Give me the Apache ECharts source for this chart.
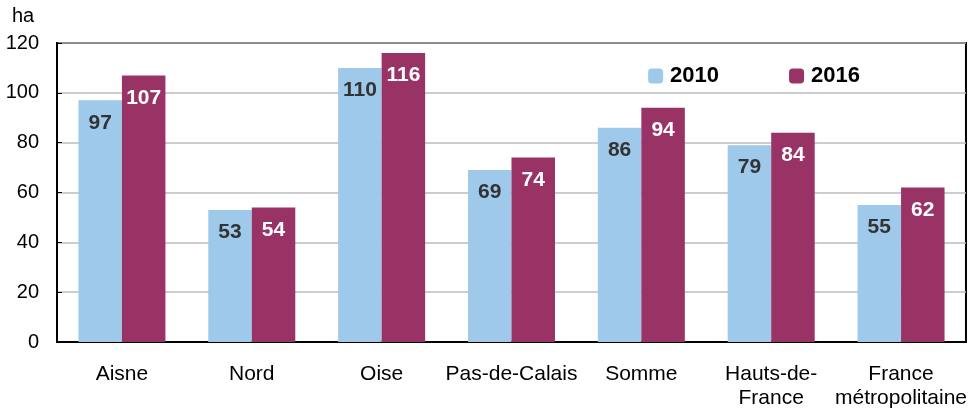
<!DOCTYPE html>
<html>
<head>
<meta charset="utf-8">
<script src="https://cdn.jsdelivr.net/npm/echarts@6/dist/echarts.min.js"></script>
<style>
  html, body { margin: 0; padding: 0; background: #fff; }
  #chart { width: 970px; height: 413px; }
</style>
</head>
<body>
<div id="chart"></div>
<script>
// départements / régions
const categories = ["Aisne", "Nord", "Oise", "Pas-de-Calais", "Somme", "Hauts-de-\nFrance", "France\nmétropolitaine"];
const values2010 = [97, 53, 110, 69, 86, 79, 55];
const values2016 = [107, 54, 116, 74, 94, 84, 62];
const yTicks = { min: 0, max: 120, interval: 20 };

const chart = echarts.init(document.getElementById("chart"));

const font = "Liberation Sans, Arial, sans-serif";

let option = {
  animation: false,
  textStyle: { fontFamily: font },
  grid: {
    left: 57, right: 4, top: 43, bottom: 71,
    show: true,
    borderColor: "#000",
    borderWidth: 2
  },
  legend: {
    top: 60,
    right: 105,
    itemWidth: 15,
    itemHeight: 15,
    itemGap: 70,
    textStyle: { fontSize: 22, fontWeight: "bold", color: "#000", fontFamily: font, padding: [0, 0, 0, 2] },
    data: ["2010", "2016"]
  },
  graphic: [{
    type: "text",
    left: 12,
    top: 6,
    style: { text: "ha", fontSize: 20, fill: "#000", fontFamily: font }
  }],
  xAxis: {
    type: "category",
    data: categories,
    axisLine: { lineStyle: { color: "#000", width: 2 } },
    axisTick: { inside: true, length: 6, lineStyle: { color: "#000" } },
    axisLabel: { fontSize: 21, color: "#000", margin: 20, lineHeight: 24, interval: 0 }
  },
  yAxis: {
    type: "value",
    min: yTicks.min,
    max: yTicks.max,
    interval: yTicks.interval,
    axisLine: { show: true, lineStyle: { color: "#000", width: 2 } },
    axisTick: { show: true, inside: true, length: 5, lineStyle: { color: "#000" } },
    axisLabel: { fontSize: 20, color: "#000", margin: 18 },
    splitLine: { lineStyle: { color: "#bdbdbd", width: 1.5 } }
  },
  series: [
    {
      name: "2010",
      type: "bar",
      data: values2010,
      barGap: "0%",
      barCategoryGap: "33%",
      itemStyle: { color: "#9ec9ea" },
      label: {
        show: true,
        position: "insideTop",
        distance: 12,
        fontSize: 21,
        fontWeight: "bold",
        color: "#333"
      }
    },
    {
      name: "2016",
      type: "bar",
      data: values2016,
      itemStyle: { color: "#993366" },
      label: {
        show: true,
        position: "insideTop",
        distance: 12,
        fontSize: 21,
        fontWeight: "bold",
        color: "#fff"
      }
    }
  ]
};

chart.setOption(option);
</script>
</body>
</html>
